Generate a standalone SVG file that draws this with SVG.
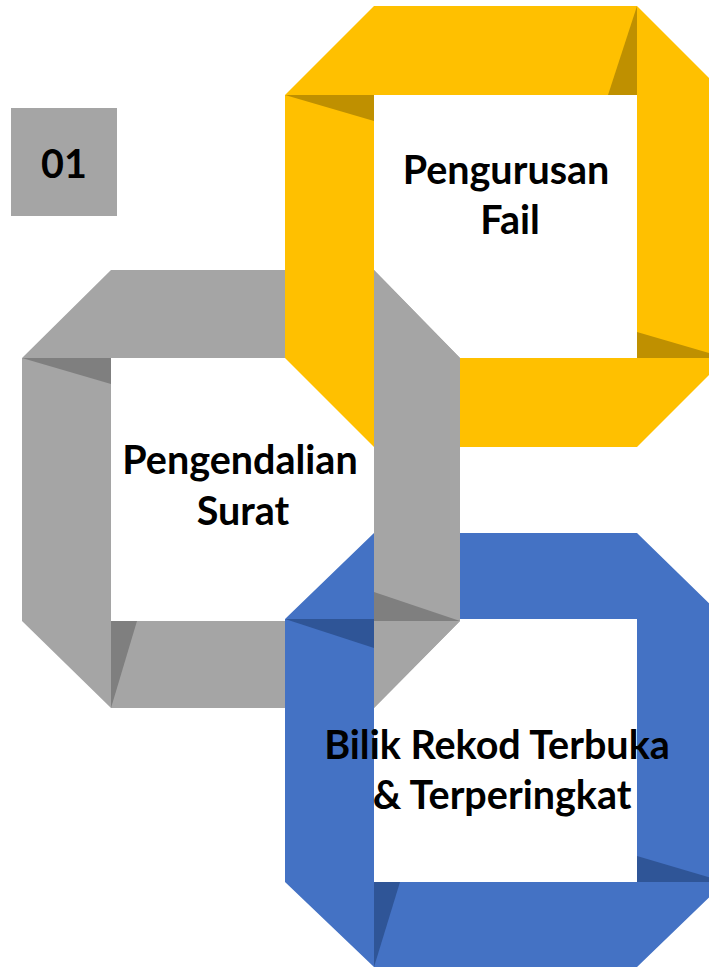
<svg xmlns="http://www.w3.org/2000/svg" width="709" height="967" viewBox="0 0 709 967">
  <style>
    .yellow { fill: #FFC000; }
    .yellow-fold { fill: #BF9000; }
    .gray { fill: #A5A5A5; }
    .gray-fold { fill: #7F7F7F; }
    .blue { fill: #4472C4; }
    .blue-fold { fill: #2F5597; }
    .label { font-family: Lato, "Open Sans", sans-serif; font-weight: bold; font-size: 39.5px; fill: #000; text-anchor: middle; }
  </style>
  <rect width="709" height="967" fill="#FFFFFF"/>

  <!-- number tag -->
  <g id="tag-01">
    <rect class="gray" x="11" y="108" width="106" height="108"/>
    <text class="label" x="64" y="178">01</text>
  </g>

  <!-- grey ring: Pengendalian Surat -->
  <g id="ring-gray">
    <path class="gray" fill-rule="evenodd" d="M111,270 L374,270 L460,358 L460,621 L374,708 L111,708 L22,621 L22,358 Z M111,358 L111,621 L374,621 L374,358 Z"/>
    <polygon class="gray-fold" points="22,358 111,358 111,384"/>
    <polygon class="gray-fold" points="111,621 137,621 111,708"/>
    <text class="label" x="240" y="474">Pengendalian</text>
    <text class="label" x="243" y="525">Surat</text>
  </g>

  <!-- yellow ring: Pengurusan Fail -->
  <g id="ring-yellow">
    <path class="yellow" fill-rule="evenodd" d="M374,6 L637,6 L726,95 L726,358 L637,447 L374,447 L285,358 L285,95 Z M374,95 L374,358 L637,358 L637,95 Z"/>
    <polygon class="yellow-fold" points="285,95 374,95 374,121"/>
    <polygon class="yellow-fold" points="637,6 637,95 608,95"/>
    <polygon class="yellow-fold" points="637,332 726,358 637,358"/>
    <text class="label" x="506" y="184">Pengurusan</text>
    <text class="label" x="510" y="234">Fail</text>
  </g>

  <!-- blue ring: Bilik Rekod -->
  <g id="ring-blue">
    <path class="blue" fill-rule="evenodd" d="M374,533 L637,533 L725,619 L725,882 L637,967 L374,967 L285,882 L285,619 Z M374,619 L374,882 L637,882 L637,619 Z"/>
    <polygon class="blue-fold" points="285,619 374,619 374,648"/>
    <polygon class="blue-fold" points="374,882 400,882 374,967"/>
    <polygon class="blue-fold" points="637,856 725,882 637,882"/>
  </g>

  <!-- right side of the grey ring passes over the yellow and blue bands -->
  <g id="weave">
    <polygon class="gray" points="374,270 460,358 460,621 374,708"/>
    <polygon class="gray-fold" points="374,592 460,621 374,621"/>
  </g>

  <g id="label-blue">
    <text class="label" x="497" y="759">Bilik Rekod Terbuka</text>
    <text class="label" x="502" y="809">&amp; Terperingkat</text>
  </g>
</svg>
